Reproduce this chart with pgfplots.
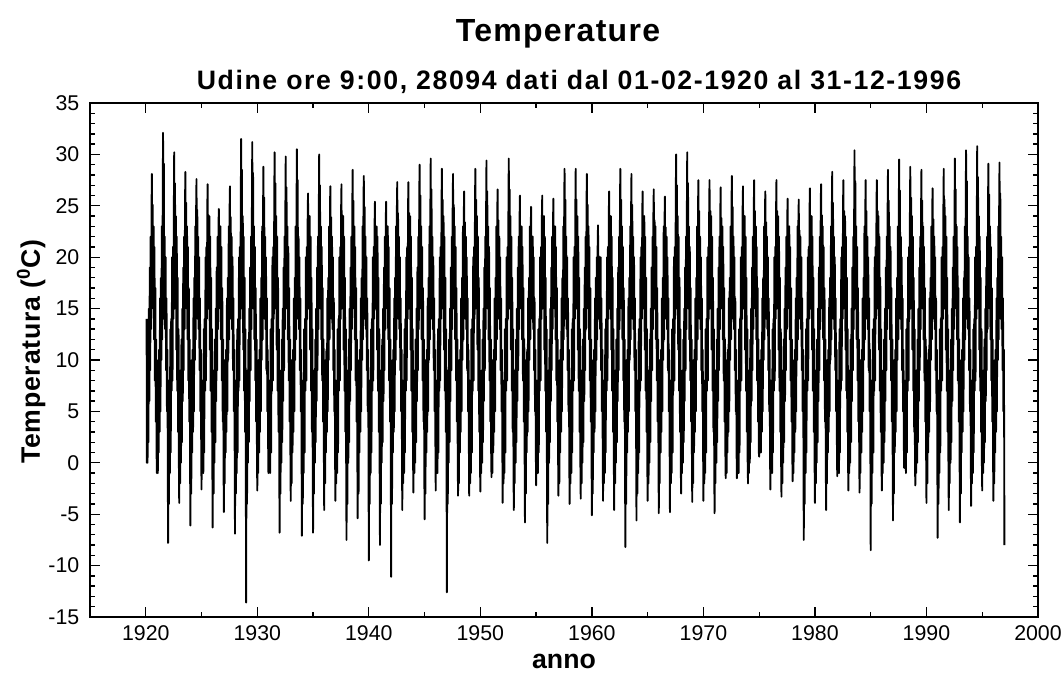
\documentclass[border=0pt]{standalone}
\usepackage{fontspec}
\setmainfont{Liberation Sans}
\usepackage{pgfplots}
\pgfplotsset{compat=1.18}
\begin{document}
\begin{tikzpicture}
\begin{axis}[
    at={(0,0)}, anchor=south west,
    scale only axis,
    width=711pt, height=385.5pt,
    xmin=1915, xmax=2000,
    ymin=-15, ymax=35,
    xtick={1920,1930,...,2000},
    minor xtick={1925,1935,...,1995},
    ytick={-15,-10,...,35},
    minor y tick num=4,
    tick align=inside,
    major tick length=7.5pt,
    minor tick length=4pt,
    axis line style={line width=2pt},
    every tick/.style={black, line width=1pt},
    ticklabel style={font=\fontsize{16}{16}\selectfont},
    xticklabel style={yshift=-3pt},
    yticklabel style={xshift=-4.5pt},
    /pgf/number format/1000 sep={},
    /pgf/number format/assume math mode=true,
]
% daily 9:00 readings, Udine, condensed to ~26 readings per year
\addplot[black, line width=1.4pt, line join=round] table[row sep=\\] {
x y\\
1920.08 14\\1920.09 0\\1920.12 9\\1920.16 0\\1920.20 12\\1920.24 2\\1920.28 15\\1920.32 6\\1920.36 19\\1920.40 9\\1920.44 22\\1920.48 13\\1920.52 25\\1920.55 28.1\\1920.58 16\\1920.62 25.1\\1920.66 15\\1920.70 23\\1920.74 12\\1920.78 21\\1920.82 8\\1920.86 17\\1920.90 4\\1920.94 12\\1920.97 1\\
1921.00 -1.0\\1921.04 6\\1921.08 -1\\1921.12 10\\1921.16 1\\1921.20 11\\1921.24 3\\1921.28 16\\1921.32 5\\1921.36 18\\1921.40 10\\1921.44 23\\1921.48 12\\1921.52 25\\1921.55 32.1\\1921.58 17\\1921.62 29.1\\1921.66 14\\1921.70 22\\1921.74 13\\1921.78 20\\1921.82 9\\1921.86 16\\1921.90 5\\1921.94 11\\1921.97 2\\
1922.00 -7.8\\1922.04 8\\1922.08 -4\\1922.12 8\\1922.16 -1\\1922.20 13\\1922.24 1\\1922.28 14\\1922.32 7\\1922.36 20\\1922.40 8\\1922.44 21\\1922.48 14\\1922.52 25\\1922.55 30.2\\1922.58 15\\1922.62 27.2\\1922.66 16\\1922.70 24\\1922.74 11\\1922.78 22\\1922.82 7\\1922.86 18\\1922.90 3\\1922.94 13\\1922.97 0\\
1923.00 -3.9\\1923.04 7\\1923.08 -2\\1923.12 9\\1923.16 0\\1923.20 12\\1923.24 2\\1923.28 15\\1923.32 6\\1923.36 19\\1923.40 9\\1923.44 22\\1923.48 13\\1923.52 25\\1923.55 28.3\\1923.58 16\\1923.62 25.3\\1923.66 15\\1923.70 23\\1923.74 12\\1923.78 21\\1923.82 8\\1923.86 17\\1923.90 4\\1923.94 12\\1923.97 1\\
1924.00 -6.1\\1924.04 6\\1924.08 -3\\1924.12 10\\1924.16 1\\1924.20 11\\1924.24 3\\1924.28 16\\1924.32 5\\1924.36 18\\1924.40 10\\1924.44 23\\1924.48 12\\1924.52 25\\1924.55 27.6\\1924.58 17\\1924.62 24.6\\1924.66 14\\1924.70 22\\1924.74 13\\1924.78 20\\1924.82 9\\1924.86 16\\1924.90 5\\1924.94 11\\1924.97 2\\
1925.00 -2.6\\1925.04 8\\1925.08 -1\\1925.12 8\\1925.16 -1\\1925.20 13\\1925.24 1\\1925.28 14\\1925.32 7\\1925.36 20\\1925.40 8\\1925.44 21\\1925.48 14\\1925.52 25\\1925.55 27.1\\1925.58 15\\1925.62 24.1\\1925.66 16\\1925.70 24\\1925.74 11\\1925.78 22\\1925.82 7\\1925.86 18\\1925.90 3\\1925.94 13\\1925.97 0\\
1926.00 -6.3\\1926.04 7\\1926.08 -3\\1926.12 9\\1926.16 0\\1926.20 12\\1926.24 2\\1926.28 15\\1926.32 6\\1926.36 19\\1926.40 9\\1926.44 22\\1926.48 13\\1926.52 22.7\\1926.55 24.7\\1926.58 16\\1926.62 21.7\\1926.66 15\\1926.70 23\\1926.74 12\\1926.78 21\\1926.82 8\\1926.86 17\\1926.90 4\\1926.94 12\\1926.97 1\\
1927.00 -4.8\\1927.04 6\\1927.08 -2\\1927.12 10\\1927.16 1\\1927.20 11\\1927.24 3\\1927.28 16\\1927.32 5\\1927.36 18\\1927.40 10\\1927.44 23\\1927.48 12\\1927.52 24.9\\1927.55 26.9\\1927.58 17\\1927.62 23.9\\1927.66 14\\1927.70 22\\1927.74 13\\1927.78 20\\1927.82 9\\1927.86 16\\1927.90 5\\1927.94 11\\1927.97 2\\
1928.00 -6.9\\1928.04 8\\1928.08 -3\\1928.12 8\\1928.16 -1\\1928.20 13\\1928.24 1\\1928.28 14\\1928.32 7\\1928.36 20\\1928.40 8\\1928.44 21\\1928.48 14\\1928.52 25\\1928.55 31.5\\1928.58 15\\1928.62 28.5\\1928.66 16\\1928.70 24\\1928.74 11\\1928.78 22\\1928.82 7\\1928.86 18\\1928.90 3\\1928.94 13\\1928.97 0\\
1929.00 -13.6\\1929.04 7\\1929.08 -4\\1929.12 9\\1929.16 0\\1929.20 12\\1929.24 2\\1929.28 15\\1929.32 6\\1929.36 19\\1929.40 9\\1929.44 22\\1929.48 13\\1929.52 25\\1929.55 31.2\\1929.58 16\\1929.62 28.2\\1929.66 15\\1929.70 23\\1929.74 12\\1929.78 21\\1929.82 8\\1929.86 17\\1929.90 4\\1929.94 12\\1929.97 1\\
1930.00 -2.7\\1930.04 6\\1930.08 -1\\1930.12 10\\1930.16 1\\1930.20 11\\1930.24 3\\1930.28 16\\1930.32 5\\1930.36 18\\1930.40 10\\1930.44 23\\1930.48 12\\1930.52 25\\1930.55 28.8\\1930.58 17\\1930.62 25.8\\1930.66 14\\1930.70 22\\1930.74 13\\1930.78 20\\1930.82 9\\1930.86 16\\1930.90 5\\1930.94 11\\1930.97 2\\
1931.00 -1.0\\1931.04 8\\1931.08 0\\1931.12 8\\1931.16 -1\\1931.20 13\\1931.24 1\\1931.28 14\\1931.32 7\\1931.36 20\\1931.40 8\\1931.44 21\\1931.48 14\\1931.52 25\\1931.55 30.2\\1931.58 15\\1931.62 27.2\\1931.66 16\\1931.70 24\\1931.74 11\\1931.78 22\\1931.82 7\\1931.86 18\\1931.90 3\\1931.94 13\\1931.97 0\\
1932.00 -6.8\\1932.04 7\\1932.08 -3\\1932.12 9\\1932.16 0\\1932.20 12\\1932.24 2\\1932.28 15\\1932.32 6\\1932.36 19\\1932.40 9\\1932.44 22\\1932.48 13\\1932.52 25\\1932.55 29.8\\1932.58 16\\1932.62 26.8\\1932.66 15\\1932.70 23\\1932.74 12\\1932.78 21\\1932.82 8\\1932.86 17\\1932.90 4\\1932.94 12\\1932.97 1\\
1933.00 -3.7\\1933.04 6\\1933.08 -2\\1933.12 10\\1933.16 1\\1933.20 11\\1933.24 3\\1933.28 16\\1933.32 5\\1933.36 18\\1933.40 10\\1933.44 23\\1933.48 12\\1933.52 25\\1933.55 30.5\\1933.58 17\\1933.62 27.5\\1933.66 14\\1933.70 22\\1933.74 13\\1933.78 20\\1933.82 9\\1933.86 16\\1933.90 5\\1933.94 11\\1933.97 2\\
1934.00 -7.1\\1934.04 8\\1934.08 -4\\1934.12 8\\1934.16 -1\\1934.20 13\\1934.24 1\\1934.28 14\\1934.32 7\\1934.36 20\\1934.40 8\\1934.44 21\\1934.48 14\\1934.52 24.2\\1934.55 26.2\\1934.58 15\\1934.62 23.2\\1934.66 16\\1934.70 24\\1934.74 11\\1934.78 22\\1934.82 7\\1934.86 18\\1934.90 3\\1934.94 13\\1934.97 0\\
1935.00 -6.8\\1935.04 7\\1935.08 -3\\1935.12 9\\1935.16 0\\1935.20 12\\1935.24 2\\1935.28 15\\1935.32 6\\1935.36 19\\1935.40 9\\1935.44 22\\1935.48 13\\1935.52 25\\1935.55 30.0\\1935.58 16\\1935.62 27.0\\1935.66 15\\1935.70 23\\1935.74 12\\1935.78 21\\1935.82 8\\1935.86 17\\1935.90 4\\1935.94 12\\1935.97 1\\
1936.00 -4.6\\1936.04 6\\1936.08 -2\\1936.12 10\\1936.16 1\\1936.20 11\\1936.24 3\\1936.28 16\\1936.32 5\\1936.36 18\\1936.40 10\\1936.44 23\\1936.48 12\\1936.52 24.9\\1936.55 26.9\\1936.58 17\\1936.62 23.9\\1936.66 14\\1936.70 22\\1936.74 13\\1936.78 20\\1936.82 9\\1936.86 16\\1936.90 5\\1936.94 11\\1936.97 2\\
1937.00 -3.7\\1937.04 8\\1937.08 -2\\1937.12 8\\1937.16 -1\\1937.20 13\\1937.24 1\\1937.28 14\\1937.32 7\\1937.36 20\\1937.40 8\\1937.44 21\\1937.48 14\\1937.52 25\\1937.55 27.1\\1937.58 15\\1937.62 24.1\\1937.66 16\\1937.70 24\\1937.74 11\\1937.78 22\\1937.82 7\\1937.86 18\\1937.90 3\\1937.94 13\\1937.97 0\\
1938.00 -7.5\\1938.04 7\\1938.08 -4\\1938.12 9\\1938.16 0\\1938.20 12\\1938.24 2\\1938.28 15\\1938.32 6\\1938.36 19\\1938.40 9\\1938.44 22\\1938.48 13\\1938.52 25\\1938.55 28.5\\1938.58 16\\1938.62 25.5\\1938.66 15\\1938.70 23\\1938.74 12\\1938.78 21\\1938.82 8\\1938.86 17\\1938.90 4\\1938.94 12\\1938.97 1\\
1939.00 -5.4\\1939.04 6\\1939.08 -3\\1939.12 10\\1939.16 1\\1939.20 11\\1939.24 3\\1939.28 16\\1939.32 5\\1939.36 18\\1939.40 10\\1939.44 23\\1939.48 12\\1939.52 25\\1939.55 27.9\\1939.58 17\\1939.62 24.9\\1939.66 14\\1939.70 22\\1939.74 13\\1939.78 20\\1939.82 9\\1939.86 16\\1939.90 5\\1939.94 11\\1939.97 2\\
1940.00 -9.5\\1940.04 8\\1940.08 -4\\1940.12 8\\1940.16 -1\\1940.20 13\\1940.24 1\\1940.28 14\\1940.32 7\\1940.36 20\\1940.40 8\\1940.44 21\\1940.48 14\\1940.52 23.4\\1940.55 25.4\\1940.58 15\\1940.62 22.4\\1940.66 16\\1940.70 23\\1940.74 11\\1940.78 22\\1940.82 7\\1940.86 18\\1940.90 3\\1940.94 13\\1940.97 0\\
1941.00 -8.0\\1941.04 7\\1941.08 -4\\1941.12 9\\1941.16 0\\1941.20 12\\1941.24 2\\1941.28 15\\1941.32 6\\1941.36 19\\1941.40 9\\1941.44 22\\1941.48 13\\1941.52 23.4\\1941.55 25.4\\1941.58 16\\1941.62 22.4\\1941.66 15\\1941.70 23\\1941.74 12\\1941.78 21\\1941.82 8\\1941.86 17\\1941.90 4\\1941.94 12\\1941.97 1\\
1942.00 -11.1\\1942.04 6\\1942.08 -4\\1942.12 10\\1942.16 1\\1942.20 11\\1942.24 3\\1942.28 16\\1942.32 5\\1942.36 18\\1942.40 10\\1942.44 23\\1942.48 12\\1942.52 25\\1942.55 27.3\\1942.58 17\\1942.62 24.3\\1942.66 14\\1942.70 22\\1942.74 13\\1942.78 20\\1942.82 9\\1942.86 16\\1942.90 5\\1942.94 11\\1942.97 2\\
1943.00 -4.6\\1943.04 8\\1943.08 -2\\1943.12 8\\1943.16 -1\\1943.20 13\\1943.24 1\\1943.28 14\\1943.32 7\\1943.36 20\\1943.40 8\\1943.44 21\\1943.48 14\\1943.52 25\\1943.55 27.3\\1943.58 15\\1943.62 24.3\\1943.66 16\\1943.70 24\\1943.74 11\\1943.78 22\\1943.82 7\\1943.86 18\\1943.90 3\\1943.94 13\\1943.97 0\\
1944.00 -2.9\\1944.04 7\\1944.08 -1\\1944.12 9\\1944.16 0\\1944.20 12\\1944.24 2\\1944.28 15\\1944.32 6\\1944.36 19\\1944.40 9\\1944.44 22\\1944.48 13\\1944.52 25\\1944.55 29.0\\1944.58 16\\1944.62 26.0\\1944.66 15\\1944.70 23\\1944.74 12\\1944.78 21\\1944.82 8\\1944.86 17\\1944.90 4\\1944.94 12\\1944.97 1\\
1945.00 -5.5\\1945.04 6\\1945.08 -3\\1945.12 10\\1945.16 1\\1945.20 11\\1945.24 3\\1945.28 16\\1945.32 5\\1945.36 18\\1945.40 10\\1945.44 23\\1945.48 12\\1945.52 25\\1945.55 29.6\\1945.58 17\\1945.62 26.6\\1945.66 14\\1945.70 22\\1945.74 13\\1945.78 20\\1945.82 9\\1945.86 16\\1945.90 5\\1945.94 11\\1945.97 2\\
1946.00 -2.7\\1946.04 8\\1946.08 -1\\1946.12 8\\1946.16 -1\\1946.20 13\\1946.24 1\\1946.28 14\\1946.32 7\\1946.36 20\\1946.40 8\\1946.44 21\\1946.48 14\\1946.52 25\\1946.55 28.6\\1946.58 15\\1946.62 25.6\\1946.66 16\\1946.70 24\\1946.74 11\\1946.78 22\\1946.82 7\\1946.86 18\\1946.90 3\\1946.94 13\\1946.97 0\\
1947.00 -12.6\\1947.04 7\\1947.08 -4\\1947.12 9\\1947.16 0\\1947.20 12\\1947.24 2\\1947.28 15\\1947.32 6\\1947.36 19\\1947.40 9\\1947.44 22\\1947.48 13\\1947.52 25\\1947.55 28.1\\1947.58 16\\1947.62 25.1\\1947.66 15\\1947.70 23\\1947.74 12\\1947.78 21\\1947.82 8\\1947.86 17\\1947.90 4\\1947.94 12\\1947.97 1\\
1948.00 -3.2\\1948.04 6\\1948.08 -2\\1948.12 10\\1948.16 1\\1948.20 11\\1948.24 3\\1948.28 16\\1948.32 5\\1948.36 18\\1948.40 10\\1948.44 23\\1948.48 12\\1948.52 24.4\\1948.55 26.4\\1948.58 17\\1948.62 23.4\\1948.66 14\\1948.70 22\\1948.74 13\\1948.78 20\\1948.82 9\\1948.86 16\\1948.90 5\\1948.94 11\\1948.97 2\\
1949.00 -3.2\\1949.04 8\\1949.08 -2\\1949.12 8\\1949.16 -1\\1949.20 13\\1949.24 1\\1949.28 14\\1949.32 7\\1949.36 20\\1949.40 8\\1949.44 21\\1949.48 14\\1949.52 25\\1949.55 28.6\\1949.58 15\\1949.62 25.6\\1949.66 16\\1949.70 24\\1949.74 11\\1949.78 22\\1949.82 7\\1949.86 18\\1949.90 3\\1949.94 13\\1949.97 0\\
1950.00 -2.8\\1950.04 7\\1950.08 -1\\1950.12 9\\1950.16 0\\1950.20 12\\1950.24 2\\1950.28 15\\1950.32 6\\1950.36 19\\1950.40 9\\1950.44 22\\1950.48 13\\1950.52 25\\1950.55 29.4\\1950.58 16\\1950.62 26.4\\1950.66 15\\1950.70 23\\1950.74 12\\1950.78 21\\1950.82 8\\1950.86 17\\1950.90 4\\1950.94 12\\1950.97 1\\
1951.00 -1.4\\1951.04 6\\1951.08 -1\\1951.12 10\\1951.16 1\\1951.20 11\\1951.24 3\\1951.28 16\\1951.32 5\\1951.36 18\\1951.40 10\\1951.44 23\\1951.48 12\\1951.52 24.6\\1951.55 26.6\\1951.58 17\\1951.62 23.6\\1951.66 14\\1951.70 22\\1951.74 13\\1951.78 20\\1951.82 9\\1951.86 16\\1951.90 5\\1951.94 11\\1951.97 2\\
1952.00 -3.9\\1952.04 8\\1952.08 -2\\1952.12 8\\1952.16 -1\\1952.20 13\\1952.24 1\\1952.28 14\\1952.32 7\\1952.36 20\\1952.40 8\\1952.44 21\\1952.48 14\\1952.52 25\\1952.55 29.6\\1952.58 15\\1952.62 26.6\\1952.66 16\\1952.70 24\\1952.74 11\\1952.78 22\\1952.82 7\\1952.86 18\\1952.90 3\\1952.94 13\\1952.97 0\\
1953.00 -4.6\\1953.04 7\\1953.08 -2\\1953.12 9\\1953.16 0\\1953.20 12\\1953.24 2\\1953.28 15\\1953.32 6\\1953.36 19\\1953.40 9\\1953.44 22\\1953.48 13\\1953.52 24.0\\1953.55 26.0\\1953.58 16\\1953.62 23.0\\1953.66 15\\1953.70 23\\1953.74 12\\1953.78 21\\1953.82 8\\1953.86 17\\1953.90 4\\1953.94 12\\1953.97 1\\
1954.00 -5.8\\1954.04 6\\1954.08 -3\\1954.12 10\\1954.16 1\\1954.20 11\\1954.24 3\\1954.28 16\\1954.32 5\\1954.36 18\\1954.40 10\\1954.44 23\\1954.48 12\\1954.52 22.9\\1954.55 24.9\\1954.58 17\\1954.62 21.9\\1954.66 14\\1954.70 22\\1954.74 13\\1954.78 20\\1954.82 9\\1954.86 16\\1954.90 5\\1954.94 11\\1954.97 2\\
1955.00 -2.2\\1955.04 8\\1955.08 -1\\1955.12 8\\1955.16 -1\\1955.20 13\\1955.24 1\\1955.28 14\\1955.32 7\\1955.36 20\\1955.40 8\\1955.44 21\\1955.48 14\\1955.52 24.0\\1955.55 26.0\\1955.58 15\\1955.62 23.0\\1955.66 16\\1955.70 24\\1955.74 11\\1955.78 22\\1955.82 7\\1955.86 18\\1955.90 3\\1955.94 13\\1955.97 0\\
1956.00 -7.8\\1956.04 7\\1956.08 -4\\1956.12 9\\1956.16 0\\1956.20 12\\1956.24 2\\1956.28 15\\1956.32 6\\1956.36 19\\1956.40 9\\1956.44 22\\1956.48 13\\1956.52 23.7\\1956.55 25.7\\1956.58 16\\1956.62 22.7\\1956.66 15\\1956.70 23\\1956.74 12\\1956.78 21\\1956.82 8\\1956.86 17\\1956.90 4\\1956.94 12\\1956.97 1\\
1957.00 -3.2\\1957.04 6\\1957.08 -2\\1957.12 10\\1957.16 1\\1957.20 11\\1957.24 3\\1957.28 16\\1957.32 5\\1957.36 18\\1957.40 10\\1957.44 23\\1957.48 12\\1957.52 25\\1957.55 28.6\\1957.58 17\\1957.62 25.6\\1957.66 14\\1957.70 22\\1957.74 13\\1957.78 20\\1957.82 9\\1957.86 16\\1957.90 5\\1957.94 11\\1957.97 2\\
1958.00 -4.0\\1958.04 8\\1958.08 -2\\1958.12 8\\1958.16 -1\\1958.20 13\\1958.24 1\\1958.28 14\\1958.32 7\\1958.36 20\\1958.40 8\\1958.44 21\\1958.48 14\\1958.52 25\\1958.55 28.6\\1958.58 15\\1958.62 25.6\\1958.66 16\\1958.70 24\\1958.74 11\\1958.78 22\\1958.82 7\\1958.86 18\\1958.90 3\\1958.94 13\\1958.97 0\\
1959.00 -3.5\\1959.04 7\\1959.08 -2\\1959.12 9\\1959.16 0\\1959.20 12\\1959.24 2\\1959.28 15\\1959.32 6\\1959.36 19\\1959.40 9\\1959.44 22\\1959.48 13\\1959.52 25\\1959.55 28.1\\1959.58 16\\1959.62 25.1\\1959.66 15\\1959.70 23\\1959.74 12\\1959.78 21\\1959.82 8\\1959.86 17\\1959.90 4\\1959.94 12\\1959.97 1\\
1960.00 -5.1\\1960.04 6\\1960.08 -3\\1960.12 10\\1960.16 1\\1960.20 11\\1960.24 3\\1960.28 16\\1960.32 5\\1960.36 18\\1960.40 10\\1960.44 20\\1960.48 12\\1960.52 21.1\\1960.55 23.1\\1960.58 17\\1960.62 20.1\\1960.66 14\\1960.70 20\\1960.74 13\\1960.78 20\\1960.82 9\\1960.86 16\\1960.90 5\\1960.94 11\\1960.97 2\\
1961.00 -3.7\\1961.04 8\\1961.08 -2\\1961.12 8\\1961.16 -1\\1961.20 13\\1961.24 1\\1961.28 14\\1961.32 7\\1961.36 20\\1961.40 8\\1961.44 21\\1961.48 14\\1961.52 24.4\\1961.55 26.4\\1961.58 15\\1961.62 23.4\\1961.66 16\\1961.70 24\\1961.74 11\\1961.78 22\\1961.82 7\\1961.86 18\\1961.90 3\\1961.94 13\\1961.97 0\\
1962.00 -4.6\\1962.04 7\\1962.08 -2\\1962.12 9\\1962.16 0\\1962.20 12\\1962.24 2\\1962.28 15\\1962.32 6\\1962.36 19\\1962.40 9\\1962.44 22\\1962.48 13\\1962.52 25\\1962.55 28.6\\1962.58 16\\1962.62 25.6\\1962.66 15\\1962.70 23\\1962.74 12\\1962.78 21\\1962.82 8\\1962.86 17\\1962.90 4\\1962.94 12\\1962.97 1\\
1963.00 -8.2\\1963.04 6\\1963.08 -4\\1963.12 10\\1963.16 1\\1963.20 11\\1963.24 3\\1963.28 16\\1963.32 5\\1963.36 18\\1963.40 10\\1963.44 23\\1963.48 12\\1963.52 25\\1963.55 28.1\\1963.58 17\\1963.62 25.1\\1963.66 14\\1963.70 22\\1963.74 13\\1963.78 20\\1963.82 9\\1963.86 16\\1963.90 5\\1963.94 11\\1963.97 2\\
1964.00 -5.6\\1964.04 8\\1964.08 -3\\1964.12 8\\1964.16 -1\\1964.20 13\\1964.24 1\\1964.28 14\\1964.32 7\\1964.36 20\\1964.40 8\\1964.44 21\\1964.48 14\\1964.52 24.4\\1964.55 26.4\\1964.58 15\\1964.62 23.4\\1964.66 16\\1964.70 24\\1964.74 11\\1964.78 22\\1964.82 7\\1964.86 18\\1964.90 3\\1964.94 13\\1964.97 0\\
1965.00 -3.7\\1965.04 7\\1965.08 -2\\1965.12 9\\1965.16 0\\1965.20 12\\1965.24 2\\1965.28 15\\1965.32 6\\1965.36 19\\1965.40 9\\1965.44 22\\1965.48 13\\1965.52 24.6\\1965.55 26.6\\1965.58 16\\1965.62 23.6\\1965.66 15\\1965.70 23\\1965.74 12\\1965.78 21\\1965.82 8\\1965.86 17\\1965.90 4\\1965.94 12\\1965.97 1\\
1966.00 -4.9\\1966.04 6\\1966.08 -2\\1966.12 10\\1966.16 1\\1966.20 11\\1966.24 3\\1966.28 16\\1966.32 5\\1966.36 18\\1966.40 10\\1966.44 23\\1966.48 12\\1966.52 23.9\\1966.55 25.9\\1966.58 17\\1966.62 22.9\\1966.66 14\\1966.70 22\\1966.74 13\\1966.78 20\\1966.82 9\\1966.86 16\\1966.90 5\\1966.94 11\\1966.97 2\\
1967.00 -4.8\\1967.04 8\\1967.08 -2\\1967.12 8\\1967.16 -1\\1967.20 13\\1967.24 1\\1967.28 14\\1967.32 7\\1967.36 20\\1967.40 8\\1967.44 21\\1967.48 14\\1967.52 25\\1967.55 30.0\\1967.58 15\\1967.62 27.0\\1967.66 16\\1967.70 24\\1967.74 11\\1967.78 22\\1967.82 7\\1967.86 18\\1967.90 3\\1967.94 13\\1967.97 0\\
1968.00 -3.0\\1968.04 7\\1968.08 -1\\1968.12 9\\1968.16 0\\1968.20 12\\1968.24 2\\1968.28 15\\1968.32 6\\1968.36 19\\1968.40 9\\1968.44 22\\1968.48 13\\1968.52 25\\1968.55 30.2\\1968.58 16\\1968.62 27.2\\1968.66 15\\1968.70 23\\1968.74 12\\1968.78 21\\1968.82 8\\1968.86 17\\1968.90 4\\1968.94 12\\1968.97 1\\
1969.00 -3.8\\1969.04 6\\1969.08 -2\\1969.12 10\\1969.16 1\\1969.20 11\\1969.24 3\\1969.28 16\\1969.32 5\\1969.36 18\\1969.40 10\\1969.44 23\\1969.48 12\\1969.52 25\\1969.55 27.5\\1969.58 17\\1969.62 24.5\\1969.66 14\\1969.70 22\\1969.74 13\\1969.78 20\\1969.82 9\\1969.86 16\\1969.90 5\\1969.94 11\\1969.97 2\\
1970.00 -3.7\\1970.04 8\\1970.08 -2\\1970.12 8\\1970.16 -1\\1970.20 13\\1970.24 1\\1970.28 14\\1970.32 7\\1970.36 20\\1970.40 8\\1970.44 21\\1970.48 14\\1970.52 25\\1970.55 27.5\\1970.58 15\\1970.62 24.5\\1970.66 16\\1970.70 24\\1970.74 11\\1970.78 22\\1970.82 7\\1970.86 18\\1970.90 3\\1970.94 13\\1970.97 0\\
1971.00 -4.9\\1971.04 7\\1971.08 -2\\1971.12 9\\1971.16 0\\1971.20 12\\1971.24 2\\1971.28 15\\1971.32 6\\1971.36 19\\1971.40 9\\1971.44 22\\1971.48 13\\1971.52 24.8\\1971.55 26.8\\1971.58 16\\1971.62 23.8\\1971.66 15\\1971.70 23\\1971.74 12\\1971.78 21\\1971.82 8\\1971.86 17\\1971.90 4\\1971.94 12\\1971.97 1\\
1972.00 -1.5\\1972.04 6\\1972.08 -1\\1972.12 10\\1972.16 1\\1972.20 11\\1972.24 3\\1972.28 16\\1972.32 5\\1972.36 18\\1972.40 10\\1972.44 23\\1972.48 12\\1972.52 25\\1972.55 27.9\\1972.58 17\\1972.62 24.9\\1972.66 14\\1972.70 22\\1972.74 13\\1972.78 20\\1972.82 9\\1972.86 16\\1972.90 5\\1972.94 11\\1972.97 2\\
1973.00 -1.5\\1973.04 8\\1973.08 -1\\1973.12 8\\1973.16 -1\\1973.20 13\\1973.24 1\\1973.28 14\\1973.32 7\\1973.36 20\\1973.40 8\\1973.44 21\\1973.48 14\\1973.52 24.9\\1973.55 26.9\\1973.58 15\\1973.62 23.9\\1973.66 16\\1973.70 24\\1973.74 11\\1973.78 22\\1973.82 7\\1973.86 18\\1973.90 3\\1973.94 13\\1973.97 0\\
1974.00 -2.0\\1974.04 7\\1974.08 -1\\1974.12 9\\1974.16 0\\1974.20 12\\1974.24 2\\1974.28 15\\1974.32 6\\1974.36 19\\1974.40 9\\1974.44 22\\1974.48 13\\1974.52 25\\1974.55 27.5\\1974.58 16\\1974.62 24.5\\1974.66 15\\1974.70 23\\1974.74 12\\1974.78 21\\1974.82 8\\1974.86 17\\1974.90 4\\1974.94 12\\1974.97 1\\
1975.00 0.6\\1975.04 6\\1975.08 1\\1975.12 10\\1975.16 1\\1975.20 11\\1975.24 3\\1975.28 16\\1975.32 5\\1975.36 18\\1975.40 10\\1975.44 23\\1975.48 12\\1975.52 24.4\\1975.55 26.4\\1975.58 17\\1975.62 23.4\\1975.66 14\\1975.70 22\\1975.74 13\\1975.78 20\\1975.82 9\\1975.86 16\\1975.90 5\\1975.94 11\\1975.97 2\\
1976.00 -2.6\\1976.04 8\\1976.08 -1\\1976.12 8\\1976.16 -1\\1976.20 13\\1976.24 1\\1976.28 14\\1976.32 7\\1976.36 20\\1976.40 8\\1976.44 21\\1976.48 14\\1976.52 25\\1976.55 27.5\\1976.58 15\\1976.62 24.5\\1976.66 16\\1976.70 24\\1976.74 11\\1976.78 22\\1976.82 7\\1976.86 18\\1976.90 3\\1976.94 13\\1976.97 0\\
1977.00 -3.3\\1977.04 7\\1977.08 -2\\1977.12 9\\1977.16 0\\1977.20 12\\1977.24 2\\1977.28 15\\1977.32 6\\1977.36 19\\1977.40 9\\1977.44 22\\1977.48 13\\1977.52 23.7\\1977.55 25.7\\1977.58 16\\1977.62 22.7\\1977.66 15\\1977.70 23\\1977.74 12\\1977.78 21\\1977.82 8\\1977.86 17\\1977.90 4\\1977.94 12\\1977.97 1\\
1978.00 -1.8\\1978.04 6\\1978.08 -1\\1978.12 10\\1978.16 1\\1978.20 11\\1978.24 3\\1978.28 16\\1978.32 5\\1978.36 18\\1978.40 10\\1978.44 23\\1978.48 12\\1978.52 23.6\\1978.55 25.6\\1978.58 17\\1978.62 22.6\\1978.66 14\\1978.70 22\\1978.74 13\\1978.78 20\\1978.82 9\\1978.86 16\\1978.90 5\\1978.94 11\\1978.97 2\\
1979.00 -7.5\\1979.04 8\\1979.08 -4\\1979.12 8\\1979.16 -1\\1979.20 13\\1979.24 1\\1979.28 14\\1979.32 7\\1979.36 20\\1979.40 8\\1979.44 21\\1979.48 14\\1979.52 24.7\\1979.55 26.7\\1979.58 15\\1979.62 23.7\\1979.66 16\\1979.70 24\\1979.74 11\\1979.78 22\\1979.82 7\\1979.86 18\\1979.90 3\\1979.94 13\\1979.97 0\\
1980.00 -3.9\\1980.04 7\\1980.08 -2\\1980.12 9\\1980.16 0\\1980.20 12\\1980.24 2\\1980.28 15\\1980.32 6\\1980.36 19\\1980.40 9\\1980.44 22\\1980.48 13\\1980.52 25\\1980.55 27.1\\1980.58 16\\1980.62 24.1\\1980.66 15\\1980.70 23\\1980.74 12\\1980.78 21\\1980.82 8\\1980.86 17\\1980.90 4\\1980.94 12\\1980.97 1\\
1981.00 -4.6\\1981.04 6\\1981.08 -2\\1981.12 10\\1981.16 1\\1981.20 11\\1981.24 3\\1981.28 16\\1981.32 5\\1981.36 18\\1981.40 10\\1981.44 23\\1981.48 12\\1981.52 25\\1981.55 28.3\\1981.58 17\\1981.62 25.3\\1981.66 14\\1981.70 22\\1981.74 13\\1981.78 20\\1981.82 9\\1981.86 16\\1981.90 5\\1981.94 11\\1981.97 2\\
1982.00 -1.3\\1982.04 8\\1982.08 -1\\1982.12 8\\1982.16 -1\\1982.20 13\\1982.24 1\\1982.28 14\\1982.32 7\\1982.36 20\\1982.40 8\\1982.44 21\\1982.48 14\\1982.52 25\\1982.55 27.5\\1982.58 15\\1982.62 24.5\\1982.66 16\\1982.70 24\\1982.74 11\\1982.78 22\\1982.82 7\\1982.86 18\\1982.90 3\\1982.94 13\\1982.97 0\\
1983.00 -2.7\\1983.04 7\\1983.08 -1\\1983.12 9\\1983.16 0\\1983.20 12\\1983.24 2\\1983.28 15\\1983.32 6\\1983.36 19\\1983.40 9\\1983.44 22\\1983.48 13\\1983.52 25\\1983.55 30.4\\1983.58 16\\1983.62 27.4\\1983.66 15\\1983.70 23\\1983.74 12\\1983.78 21\\1983.82 8\\1983.86 17\\1983.90 4\\1983.94 12\\1983.97 1\\
1984.00 -2.9\\1984.04 6\\1984.08 -1\\1984.12 10\\1984.16 1\\1984.20 11\\1984.24 3\\1984.28 16\\1984.32 5\\1984.36 18\\1984.40 10\\1984.44 23\\1984.48 12\\1984.52 25\\1984.55 27.5\\1984.58 17\\1984.62 24.5\\1984.66 14\\1984.70 22\\1984.74 13\\1984.78 20\\1984.82 9\\1984.86 16\\1984.90 5\\1984.94 11\\1984.97 2\\
1985.00 -8.5\\1985.04 8\\1985.08 -4\\1985.12 8\\1985.16 -1\\1985.20 13\\1985.24 1\\1985.28 14\\1985.32 7\\1985.36 20\\1985.40 8\\1985.44 21\\1985.48 14\\1985.52 25\\1985.55 27.5\\1985.58 15\\1985.62 24.5\\1985.66 16\\1985.70 24\\1985.74 11\\1985.78 22\\1985.82 7\\1985.86 18\\1985.90 3\\1985.94 13\\1985.97 0\\
1986.00 -2.7\\1986.04 7\\1986.08 -1\\1986.12 9\\1986.16 0\\1986.20 12\\1986.24 2\\1986.28 15\\1986.32 6\\1986.36 19\\1986.40 9\\1986.44 22\\1986.48 13\\1986.52 25\\1986.55 28.5\\1986.58 16\\1986.62 25.5\\1986.66 15\\1986.70 23\\1986.74 12\\1986.78 21\\1986.82 8\\1986.86 17\\1986.90 4\\1986.94 12\\1986.97 1\\
1987.00 -5.6\\1987.04 6\\1987.08 -3\\1987.12 10\\1987.16 1\\1987.20 11\\1987.24 3\\1987.28 16\\1987.32 5\\1987.36 18\\1987.40 10\\1987.44 23\\1987.48 12\\1987.52 25\\1987.55 29.5\\1987.58 17\\1987.62 26.5\\1987.66 14\\1987.70 22\\1987.74 13\\1987.78 20\\1987.82 9\\1987.86 16\\1987.90 5\\1987.94 11\\1987.97 2\\
1988.00 -0.5\\1988.04 8\\1988.08 0\\1988.12 8\\1988.16 -1\\1988.20 13\\1988.24 1\\1988.28 14\\1988.32 7\\1988.36 20\\1988.40 8\\1988.44 21\\1988.48 14\\1988.52 25\\1988.55 28.8\\1988.58 15\\1988.62 25.8\\1988.66 16\\1988.70 24\\1988.74 11\\1988.78 22\\1988.82 7\\1988.86 18\\1988.90 3\\1988.94 13\\1988.97 0\\
1989.00 -2.2\\1989.04 7\\1989.08 -1\\1989.12 9\\1989.16 0\\1989.20 12\\1989.24 2\\1989.28 15\\1989.32 6\\1989.36 19\\1989.40 9\\1989.44 22\\1989.48 13\\1989.52 25\\1989.55 28.5\\1989.58 16\\1989.62 25.5\\1989.66 15\\1989.70 23\\1989.74 12\\1989.78 21\\1989.82 8\\1989.86 17\\1989.90 4\\1989.94 12\\1989.97 1\\
1990.00 -3.9\\1990.04 6\\1990.08 -2\\1990.12 10\\1990.16 1\\1990.20 11\\1990.24 3\\1990.28 16\\1990.32 5\\1990.36 18\\1990.40 10\\1990.44 23\\1990.48 12\\1990.52 24.7\\1990.55 26.7\\1990.58 17\\1990.62 23.7\\1990.66 14\\1990.70 22\\1990.74 13\\1990.78 20\\1990.82 9\\1990.86 16\\1990.90 5\\1990.94 11\\1990.97 2\\
1991.00 -7.3\\1991.04 8\\1991.08 -4\\1991.12 8\\1991.16 -1\\1991.20 13\\1991.24 1\\1991.28 14\\1991.32 7\\1991.36 20\\1991.40 8\\1991.44 21\\1991.48 14\\1991.52 25\\1991.55 28.6\\1991.58 15\\1991.62 25.6\\1991.66 16\\1991.70 24\\1991.74 11\\1991.78 22\\1991.82 7\\1991.86 18\\1991.90 3\\1991.94 13\\1991.97 0\\
1992.00 -4.6\\1992.04 7\\1992.08 -2\\1992.12 9\\1992.16 0\\1992.20 12\\1992.24 2\\1992.28 15\\1992.32 6\\1992.36 19\\1992.40 9\\1992.44 22\\1992.48 13\\1992.52 25\\1992.55 29.6\\1992.58 16\\1992.62 26.6\\1992.66 15\\1992.70 23\\1992.74 12\\1992.78 21\\1992.82 8\\1992.86 17\\1992.90 4\\1992.94 12\\1992.97 1\\
1993.00 -5.8\\1993.04 6\\1993.08 -3\\1993.12 10\\1993.16 1\\1993.20 11\\1993.24 3\\1993.28 16\\1993.32 5\\1993.36 18\\1993.40 10\\1993.44 23\\1993.48 12\\1993.52 25\\1993.55 30.4\\1993.58 17\\1993.62 27.4\\1993.66 14\\1993.70 22\\1993.74 13\\1993.78 20\\1993.82 9\\1993.86 16\\1993.90 5\\1993.94 11\\1993.97 2\\
1994.00 -4.2\\1994.04 8\\1994.08 -2\\1994.12 8\\1994.16 -1\\1994.20 13\\1994.24 1\\1994.28 14\\1994.32 7\\1994.36 20\\1994.40 8\\1994.44 21\\1994.48 14\\1994.52 25\\1994.55 30.8\\1994.58 15\\1994.62 27.8\\1994.66 16\\1994.70 24\\1994.74 11\\1994.78 22\\1994.82 7\\1994.86 18\\1994.90 3\\1994.94 13\\1994.97 0\\
1995.00 -2.7\\1995.04 7\\1995.08 -1\\1995.12 9\\1995.16 0\\1995.20 12\\1995.24 2\\1995.28 15\\1995.32 6\\1995.36 19\\1995.40 9\\1995.44 22\\1995.48 13\\1995.52 25\\1995.55 29.1\\1995.58 16\\1995.62 26.1\\1995.66 15\\1995.70 23\\1995.74 12\\1995.78 21\\1995.82 8\\1995.86 17\\1995.90 4\\1995.94 12\\1995.97 1\\
1996.00 -3.7\\1996.04 6\\1996.08 -2\\1996.12 10\\1996.16 1\\1996.20 11\\1996.24 3\\1996.28 16\\1996.32 5\\1996.36 18\\1996.40 10\\1996.44 23\\1996.48 12\\1996.52 25\\1996.55 29.2\\1996.58 17\\1996.62 26.2\\1996.66 14\\1996.70 22\\1996.74 13\\1996.78 20\\1996.82 9\\1996.86 16\\1996.90 5\\1996.94 11\\1996.97 2\\
1996.99 -8.0\\
};
\end{axis}
\node[anchor=base, font=\bfseries\fontsize{24}{24}\selectfont\addfontfeatures{LetterSpace=4}] at (351pt,431.25pt) {Temperature};
\node[anchor=base, font=\bfseries\fontsize{20}{20}\selectfont\addfontfeatures{LetterSpace=6}] at (366.75pt,395.8pt) {Udine ore 9:00, 28094 dati dal 01-02-1920 al 31-12-1996};
\node[anchor=base, font=\bfseries\fontsize{20}{20}\selectfont] at (355.5pt,-39pt) {anno};
\node[anchor=base, rotate=90, font=\bfseries\fontsize{20}{20}\selectfont\addfontfeatures{LetterSpace=3}] at (-37.5pt,199pt) {Temperatura (\textsuperscript{0}C)};
\pgfresetboundingbox
\path[use as bounding box] (-67.5pt,-43.5pt) rectangle (728.25pt,462.75pt);
\end{tikzpicture}
\end{document}
